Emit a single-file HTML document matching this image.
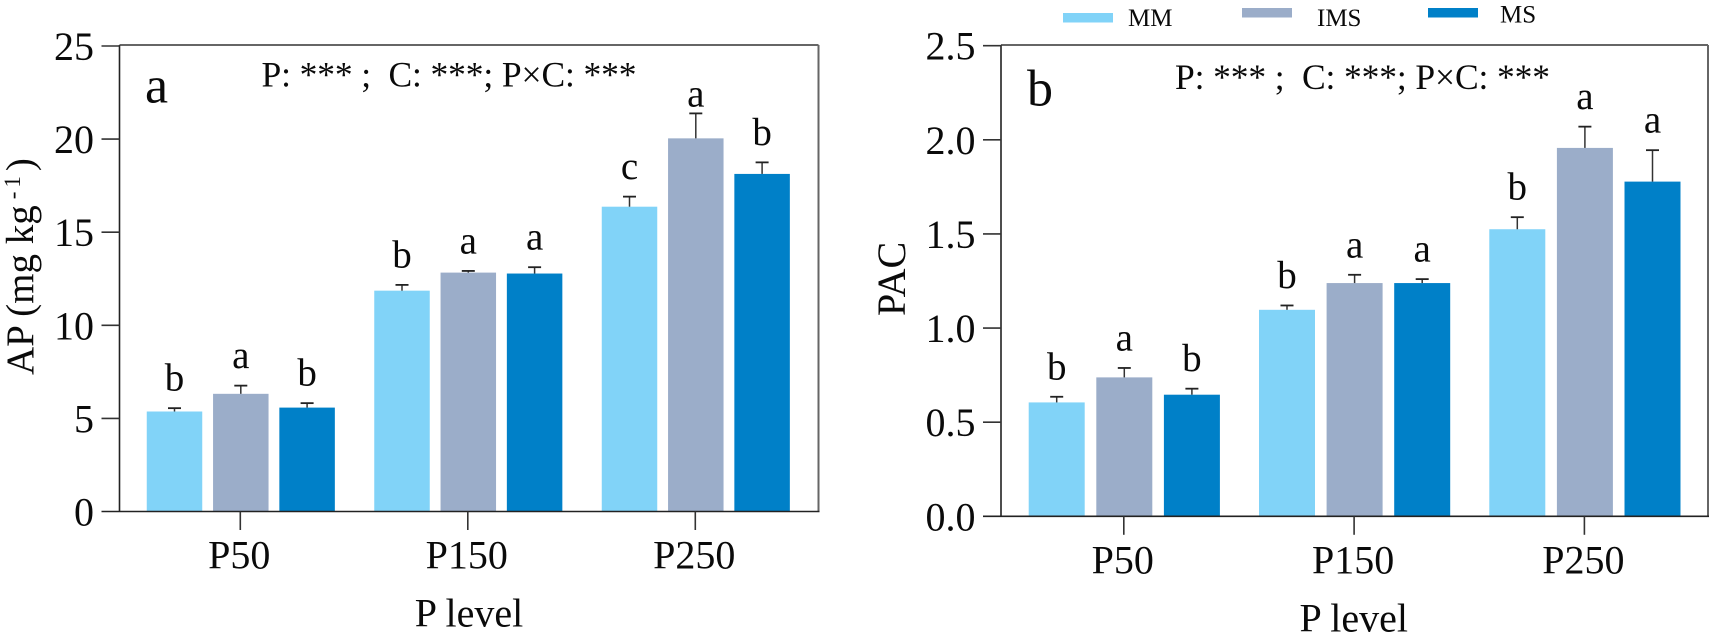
<!DOCTYPE html>
<html lang="en">
<head>
<meta charset="utf-8">
<title>AP and PAC by P level</title>
<style>
html,body{margin:0;padding:0;background:#fff;width:1713px;height:632px;overflow:hidden}
svg{display:block}
text{font-family:"Liberation Serif","Times New Roman",serif;fill:#0a0a0a}
</style>
</head>
<body>
<svg id="chart" xmlns="http://www.w3.org/2000/svg" width="1713" height="632" viewBox="0 0 1713 632">
  <g>
    <rect x="1063" y="13" width="50" height="9.5" fill="#81D3F8"/>
    <text x="1128" y="26" font-size="25">MM</text>
    <rect x="1242" y="8" width="50" height="9.5" fill="#9BADC9"/>
    <text x="1317" y="26" font-size="25">IMS</text>
    <rect x="1428" y="8" width="50" height="9.5" fill="#0080C8"/>
    <text x="1500" y="22.5" font-size="25">MS</text>
  </g>
  <g id="panel-a"></g>
  <g id="panel-b"></g>
</svg>
<script>
const categories = ['P50', 'P150', 'P250'];
const seriesNames = ['MM', 'IMS', 'MS'];
const seriesColors = ['#81D3F8', '#9BADC9', '#0080C8'];

const apTickLabels = ['0', '5', '10', '15', '20', '25'];
const apMM = [5.37, 11.86, 16.37];
const apIMS = [6.32, 12.83, 20.04];
const apMS = [5.58, 12.78, 18.13];
const apMMErr = [0.18, 0.31, 0.54];
const apIMSErr = [0.44, 0.09, 1.34];
const apMSErr = [0.24, 0.34, 0.62];
const apMMSig = ['b', 'b', 'c'];
const apIMSSig = ['a', 'a', 'a'];
const apMSSig = ['b', 'a', 'b'];

const pacTickLabels = ['0.0', '0.5', '1.0', '1.5', '2.0', '2.5'];
const pacMM = [0.605, 1.097, 1.525];
const pacIMS = [0.738, 1.239, 1.957];
const pacMS = [0.646, 1.239, 1.778];
const pacMMErr = [0.03, 0.023, 0.064];
const pacIMSErr = [0.05, 0.044, 0.113];
const pacMSErr = [0.032, 0.021, 0.167];
const pacMMSig = ['b', 'b', 'b'];
const pacIMSSig = ['a', 'a', 'a'];
const pacMSSig = ['b', 'a', 'a'];

const SVG_NS = 'http://www.w3.org/2000/svg';

function make(parent, tag, attrs, content) {
  const el = document.createElementNS(SVG_NS, tag);
  for (const key in attrs) {
    el.setAttribute(key, attrs[key]);
  }
  if (content !== undefined) {
    el.textContent = content;
  }
  parent.appendChild(el);
  return el;
}

function drawPanel(cfg) {
  const root = document.getElementById(cfg.id);
  const yMax = Number(cfg.tickLabels[cfg.tickLabels.length - 1]);
  const y = v => cfg.y0 - (v / yMax) * (cfg.y0 - cfg.yTop);
  const groupX = i => cfg.groupStart + i * cfg.groupPitch;
  const barX = (i, j) => groupX(i) + (j - 1) * cfg.barPitch;

  cfg.series.forEach((values, j) => {
    values.forEach((value, i) => {
      const cx = barX(i, j);
      const top = y(value);
      const errTop = y(value + cfg.errors[j][i]);
      const bar = make(root, 'rect', {
        x: cx - cfg.barWidth / 2,
        y: top,
        width: cfg.barWidth,
        height: cfg.y0 - top,
        fill: seriesColors[j]
      });
      
      

      const stem = make(root, 'line', {
        x1: cx, x2: cx, y1: top, y2: errTop,
        stroke: '#333', 'stroke-width': 1.5
      });
      
      

      const cap = make(root, 'line', {
        x1: cx - 6.5, x2: cx + 6.5, y1: errTop, y2: errTop,
        stroke: '#222', 'stroke-width': 1.8
      });
      
      

      const gap = (cfg.id === 'panel-a' && i === 2 && j === 1) ? 7 : 17.5;
      const sig = make(root, 'text', {
        x: cx, y: errTop - gap,
        'font-size': 39, 'text-anchor': 'middle'
      }, cfg.sig[j][i]);
      
      
    });
  });

  const leftAxis = make(root, 'line', {
    x1: cfg.left, x2: cfg.left, y1: cfg.frameTop, y2: cfg.y0,
    stroke: '#222', 'stroke-width': 1.6
  });
  
  

  const topEdge = make(root, 'line', {
    x1: cfg.left, x2: cfg.right, y1: cfg.frameTop, y2: cfg.frameTop,
    stroke: '#333', 'stroke-width': 1.6
  });
  
  

  const rightEdge = make(root, 'line', {
    x1: cfg.right, x2: cfg.right, y1: cfg.frameTop, y2: cfg.y0,
    stroke: '#666', 'stroke-width': 2
  });
  
  

  const bottomAxis = make(root, 'line', {
    x1: cfg.left - 18, x2: cfg.right + 1, y1: cfg.y0, y2: cfg.y0,
    stroke: '#222', 'stroke-width': 1.6
  });
  
  

  cfg.tickLabels.forEach(label => {
    const ty = y(Number(label));
    if (Number(label) !== 0) {
      const tick = make(root, 'line', {
        x1: cfg.left - 18, x2: cfg.left, y1: ty, y2: ty,
        stroke: '#333', 'stroke-width': 1.6
      });
      
      
    }
    const text = make(root, 'text', {
      x: cfg.left - 25.5, y: ty + 14,
      'font-size': 40, 'text-anchor': 'end'
    }, label);
    
    
  });

  categories.forEach((name, i) => {
    const gx = groupX(i);
    const tick = make(root, 'line', {
      x1: gx - 0.5, x2: gx - 0.5, y1: cfg.y0, y2: cfg.y0 + 18.5,
      stroke: '#333', 'stroke-width': 1.6
    });
    
    
    const text = make(root, 'text', {
      x: gx - 1.5, y: cfg.y0 + 57,
      'font-size': 40, 'text-anchor': 'middle'
    }, name);
    
    
  });

  const xTitle = make(root, 'text', {
    x: cfg.xTitleX, y: cfg.y0 + 115,
    'font-size': 40, 'text-anchor': 'middle'
  }, 'P level');
  
  

  const panelLetter = make(root, 'text', {
    x: cfg.letterX, y: cfg.letterY, 'font-size': 52
  }, cfg.letter);
  
  

  const stats = make(root, 'text', {
    x: cfg.statX, y: cfg.statY, 'font-size': 35.5,
    textLength: 375, lengthAdjust: 'spacing',
    'xml:space': 'preserve'
  }, 'P: ***\u00A0;\u00A0 C: ***; P\u00D7C: ***');
  
  
}

drawPanel({
  id: 'panel-a', letter: 'a',
  tickLabels: apTickLabels,
  series: [apMM, apIMS, apMS],
  errors: [apMMErr, apIMSErr, apMSErr],
  sig: [apMMSig, apIMSSig, apMSSig],
  left: 119.5, right: 818.5, frameTop: 45, yTop: 46, y0: 511.5,
  groupStart: 240.8, groupPitch: 227.5, barPitch: 66.3, barWidth: 55.5,
  xTitleX: 469, letterX: 145, letterY: 102.5, statX: 261.5, statY: 86.5
});

drawPanel({
  id: 'panel-b', letter: 'b',
  tickLabels: pacTickLabels,
  series: [pacMM, pacIMS, pacMS],
  errors: [pacMMErr, pacIMSErr, pacMSErr],
  sig: [pacMMSig, pacIMSSig, pacMSSig],
  left: 1001, right: 1708, frameTop: 45, yTop: 45.7, y0: 516.3,
  groupStart: 1124.3, groupPitch: 230.3, barPitch: 67.6, barWidth: 56,
  xTitleX: 1353.7, letterX: 1027, letterY: 105.5, statX: 1175, statY: 89
});

const panelA = document.getElementById('panel-a');
const panelB = document.getElementById('panel-b');

const apTitle = make(panelA, 'text', {
  transform: 'translate(33,375) rotate(-90)',
  'font-size': 39
});


make(apTitle, 'tspan', {}, 'AP (mg kg');
make(apTitle, 'tspan', { dy: -13, 'font-size': 23, dx: 6 }, '-');
make(apTitle, 'tspan', { 'font-size': 23, dx: 4 }, '1');
make(apTitle, 'tspan', { dy: 13, dx: 5 }, ')');

const pacTitle = make(panelB, 'text', {
  transform: 'translate(905,316) rotate(-90)',
  'font-size': 40
}, 'PAC');


</script>
</body>
</html>
